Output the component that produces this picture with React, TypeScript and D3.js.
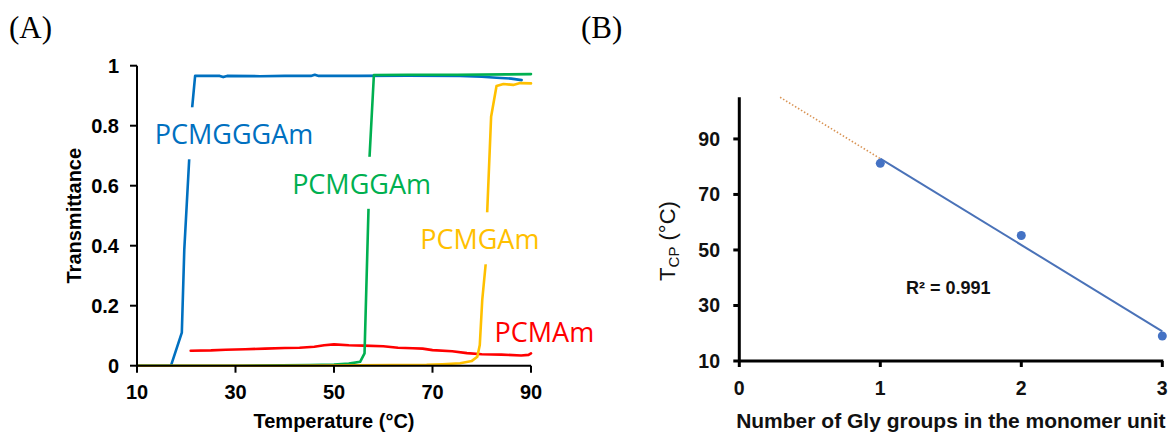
import React from "react";
import * as d3 from "d3";

// ---------- Panel A data (Transmittance vs Temperature) ----------
const xTicksA = [10, 30, 50, 70, 90];
const yTicksA = [0, 0.2, 0.4, 0.6, 0.8, 1];
const yTickLabelsA = ["0", "0.2", "0.4", "0.6", "0.8", "1"];

const gggT = [10, 16.9, 19.1, 19.6, 20.6, 21.2, 21.8, 24, 26.8, 27.5, 28.3, 35, 40, 45.3, 46.1, 46.9, 55, 65, 75.6, 80, 83, 86, 88.1];
const gggV = [0, 0, 0.11, 0.386, 0.688, 0.86, 0.966, 0.966, 0.966, 0.962, 0.966, 0.965, 0.966, 0.966, 0.97, 0.966, 0.966, 0.967, 0.966, 0.963, 0.96, 0.957, 0.952];

const ggT = [10, 30, 45, 50, 53, 55.3, 56.2, 57, 57.2, 58.1, 65, 75, 85, 90];
const ggV = [0, 0, 0.002, 0.004, 0.007, 0.013, 0.041, 0.519, 0.691, 0.969, 0.97, 0.97, 0.971, 0.972];

const gT = [10, 40, 68.8, 72, 75.6, 78, 79.1, 79.6, 80.1, 80.8, 81.1, 81.9, 83, 84.4, 86.4, 87.8, 90];
const gV = [0, 0, 0.003, 0.005, 0.008, 0.016, 0.03, 0.069, 0.219, 0.339, 0.51, 0.83, 0.932, 0.939, 0.936, 0.942, 0.941];

const mT = [20.9, 25, 28, 32, 36, 40, 43, 46, 48, 50, 53, 56, 60, 63, 66, 68, 70, 74, 77, 80, 84, 88, 89.5, 90];
const mV = [0.05, 0.051, 0.053, 0.055, 0.057, 0.059, 0.06, 0.063, 0.068, 0.071, 0.068, 0.067, 0.065, 0.06, 0.058, 0.057, 0.052, 0.048, 0.042, 0.038, 0.037, 0.034, 0.036, 0.041];

const seriesNames = ["PCMAm", "PCMGGGAm", "PCMGGAm", "PCMGAm"];
const seriesColors = ["#FF0000", "#0070C0", "#00B050", "#FFC000"];
const seriesT = [mT, gggT, ggT, gT];
const seriesV = [mV, gggV, ggV, gV];
// label anchor (temperature, transmittance) of each series name
const labelT = [82.6, 13.6, 41.5, 67.5];
const labelV = [0.08, 0.738, 0.573, 0.388];

// ---------- Panel B data (Tcp vs number of Gly groups) ----------
const glyCount = [1, 2, 3];
const tcp = [81.2, 55.2, 19.0];
const xTicksB = [0, 1, 2, 3];
const yTicksB = [10, 30, 50, 70, 90];
const r2Label = "R² = 0.991";

export default function App() {
  // Panel A scales
  const xA = d3.scaleLinear().domain([10, 90]).range([137, 531]);
  const yA = d3.scaleLinear().domain([0, 1]).range([365.7, 65.7]);
  const lineA = d3
    .line<[number, number]>()
    .x((d) => xA(d[0]))
    .y((d) => yA(d[1]));

  // Panel B scales
  const xB = d3.scaleLinear().domain([0, 3]).range([739.3, 1162.3]);
  const yB = d3.scaleLinear().domain([10, 105]).range([361, 97.3]);

  // least squares fit for the trend line
  const mx = d3.mean(glyCount)!;
  const my = d3.mean(tcp)!;
  const slope =
    d3.sum(glyCount.map((x, i) => (x - mx) * (tcp[i] - my))) /
    d3.sum(glyCount.map((x) => (x - mx) ** 2));
  const icpt = my - slope * mx;
  const fit = (x: number) => icpt + slope * x;
  const xTop = (105 - icpt) / slope;

  const labelFont = "'Open Sans', 'Noto Sans', sans-serif";
  const axisFont = "'Liberation Sans', Arial, sans-serif";

  return (
    <svg
      width={1171}
      height={432}
      style={{ position: "absolute", left: 0, top: 0, background: "#fff" }}
    >
      <rect x={0} y={0} width={1171} height={432} fill="#fff" />
      {/* panel letters */}
      <text x={9} y={38} fontFamily="'Liberation Serif', 'Times New Roman', serif" fontSize={31}>
        (A)
      </text>
      <text x={581} y={38} fontFamily="'Liberation Serif', 'Times New Roman', serif" fontSize={31}>
        (B)
      </text>

      {/* ===== Panel A ===== */}
      {seriesT.map((ts, si) => (
        <path
          key={seriesNames[si]}
          d={lineA(ts.map((t, i) => [t, seriesV[si][i]]))!}
          fill="none"
          stroke={seriesColors[si]}
          strokeWidth={2.6}
          strokeLinejoin="round"
          strokeLinecap="round"
        />
      ))}
      {/* series labels with white boxes */}
      {seriesNames.map((n, si) => {
        const x = xA(labelT[si]);
        const y = yA(labelV[si]);
        const w = n.length * 17.6;
        return (
          <g key={"lab" + n}>
            {si !== 0 && <rect x={x - 6} y={y - 37} width={w} height={52} fill="#fff" />}
            <text x={x} y={y} fontFamily={labelFont} fontSize={27} fill={seriesColors[si]}>
              {n}
            </text>
          </g>
        );
      })}
      {/* axes A */}
      <g stroke="#000" strokeWidth={2} fill="none">
        <line x1={xA(10)} x2={xA(10)} y1={yA(1)} y2={yA(0)} />
        <line x1={xA(10)} x2={xA(90)} y1={yA(0)} y2={yA(0)} />
        {yTicksA.map((v) => (
          <line key={"ya" + v} x1={xA(10) - 7} x2={xA(10)} y1={yA(v)} y2={yA(v)} />
        ))}
        {xTicksA.map((v) => (
          <line key={"xa" + v} x1={xA(v)} x2={xA(v)} y1={yA(0)} y2={yA(0) + 7} />
        ))}
      </g>
      {yTicksA.map((v, i) => (
        <text
          key={"yal" + v}
          x={119}
          y={yA(v)}
          dy="0.35em"
          textAnchor="end"
          fontFamily={axisFont}
          fontWeight="bold"
          fontSize={20}
        >
          {yTickLabelsA[i]}
        </text>
      ))}
      {xTicksA.map((v) => (
        <text
          key={"xal" + v}
          x={xA(v)}
          y={398.5}
          textAnchor="middle"
          fontFamily={axisFont}
          fontWeight="bold"
          fontSize={20}
        >
          {v}
        </text>
      ))}
      <text
        x={(xA(10) + xA(90)) / 2}
        y={428}
        textAnchor="middle"
        fontFamily={axisFont}
        fontWeight="bold"
        fontSize={20}
      >
        Temperature (°C)
      </text>
      <text
        transform={`translate(81, ${(yA(0) + yA(1)) / 2}) rotate(-90)`}
        textAnchor="middle"
        fontFamily={axisFont}
        fontWeight="bold"
        fontSize={20}
      >
        Transmittance
      </text>

      {/* ===== Panel B ===== */}
      <line
        x1={xB(xTop)}
        y1={yB(fit(xTop))}
        x2={xB(1)}
        y2={yB(fit(1))}
        stroke="#D99455"
        strokeWidth={1.6}
        strokeDasharray="1.5 2"
      />
      <line
        x1={xB(1)}
        y1={yB(fit(1))}
        x2={xB(3)}
        y2={yB(fit(3))}
        stroke="#4A72B8"
        strokeWidth={2}
      />
      {glyCount.map((g, i) => (
        <circle key={"pt" + g} cx={xB(g)} cy={yB(tcp[i])} r={4.5} fill="#4472C4" />
      ))}
      <g stroke="#000" strokeWidth={3} fill="none">
        <line x1={xB(0)} x2={xB(0)} y1={yB(105)} y2={yB(10)} />
        <line x1={xB(0)} x2={xB(3) + 1} y1={yB(10)} y2={yB(10)} />
        {yTicksB.map((v) => (
          <line key={"yb" + v} x1={xB(0) - 6} x2={xB(0)} y1={yB(v)} y2={yB(v)} />
        ))}
        {xTicksB.map((v) => (
          <line key={"xb" + v} x1={xB(v)} x2={xB(v)} y1={yB(10)} y2={yB(10) + 6} />
        ))}
      </g>
      {yTicksB.map((v) => (
        <text
          key={"ybl" + v}
          x={720}
          y={yB(v)}
          dy="0.35em"
          textAnchor="end"
          fontFamily={axisFont}
          fontWeight="bold"
          fontSize={19.5}
          fill="#111"
        >
          {v}
        </text>
      ))}
      {xTicksB.map((v) => (
        <text
          key={"xbl" + v}
          x={xB(v)}
          y={394.5}
          textAnchor="middle"
          fontFamily={axisFont}
          fontWeight="bold"
          fontSize={19.5}
          fill="#111"
        >
          {v}
        </text>
      ))}
      <text
        x={(xB(0) + xB(3)) / 2}
        y={427.5}
        textAnchor="middle"
        fontFamily={axisFont}
        fontWeight="bold"
        fontSize={21}
        fill="#111"
      >
        Number of Gly groups in the monomer unit
      </text>
      <text
        transform={`translate(675, 241) rotate(-90)`}
        textAnchor="middle"
        fontFamily={axisFont}
        fontSize={22}
        fill="#111"
      >
        T
        <tspan fontSize={15} dy={4}>
          CP
        </tspan>
        <tspan dy={-4}> (°C)</tspan>
      </text>
      <text
        x={906}
        y={294.3}
        fontFamily={axisFont}
        fontWeight="bold"
        fontSize={18}
        fill="#111"
      >
        {r2Label}
      </text>
    </svg>
  );
}
